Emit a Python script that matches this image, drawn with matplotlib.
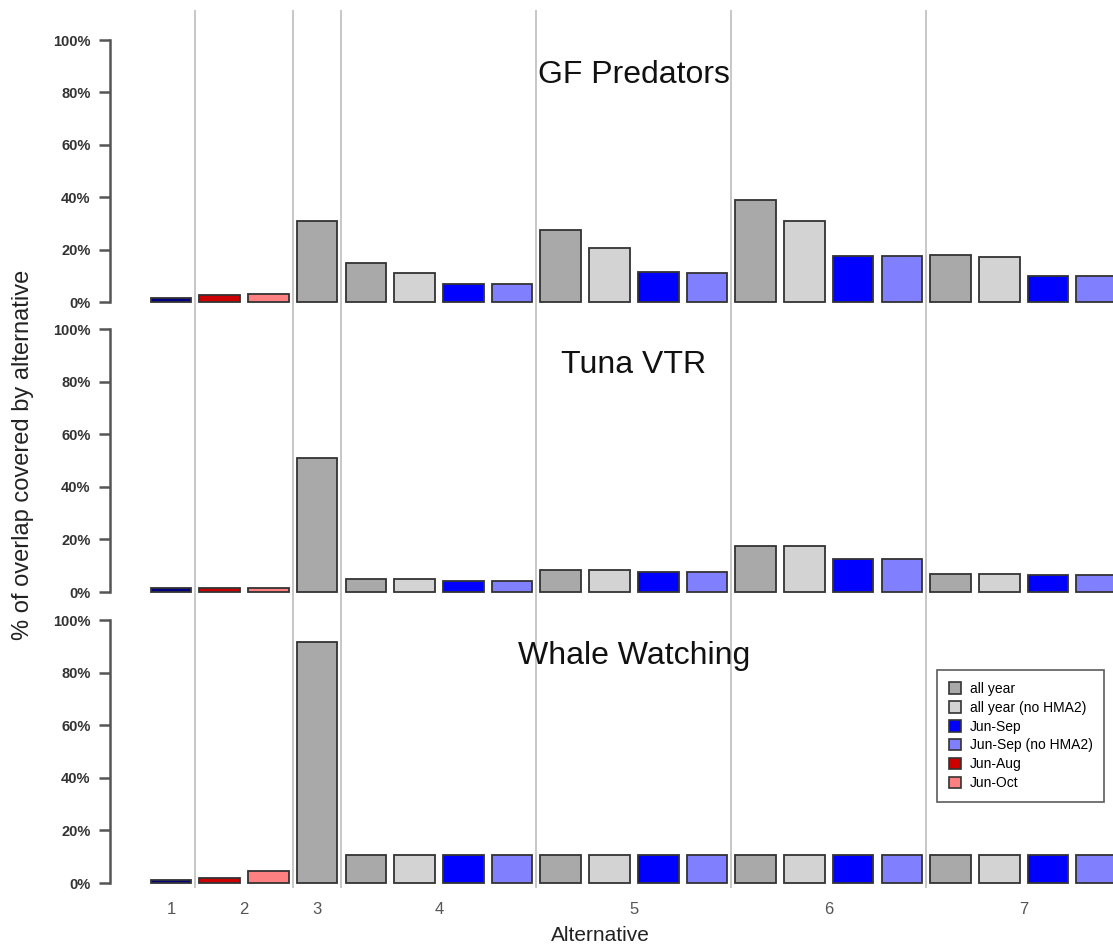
import matplotlib.pyplot as plt
from matplotlib.patches import Patch

plt.rcParams['font.family'] = ['Liberation Sans', 'DejaVu Sans']

# bar order: alt1 | alt2 (Jun-Aug, Jun-Oct) | alt3 | alt4..alt7 x 4 options
alternatives = ['1', '2', '3', '4', '5', '6', '7']
group_sizes = [1, 2, 1, 4, 4, 4, 4]
panels = ['GF Predators', 'Tuna VTR', 'Whale Watching']

gf_predators = [1.5, 2.5, 3, 31,
                15, 11, 7, 7,
                27.5, 20.5, 11.5, 11,
                39, 31, 17.5, 17.5,
                18, 17, 10, 10]
tuna_vtr = [1.5, 1.5, 1.5, 51,
            5, 5, 4, 4,
            8.5, 8.5, 7.5, 7.5,
            17.5, 17.5, 12.5, 12.5,
            7, 7, 6.5, 6.5]
whale_watching = [1, 2, 4.5, 91.5,
                  10.5, 10.5, 10.5, 10.5,
                  10.5, 10.5, 10.5, 10.5,
                  10.5, 10.5, 10.5, 10.5,
                  10.5, 10.5, 10.5, 10.5]

legend_labels = ['all year', 'all year (no HMA2)', 'Jun-Sep',
                 'Jun-Sep (no HMA2)', 'Jun-Aug', 'Jun-Oct']
legend_colors = ['#a9a9a9', '#d3d3d3', '#0000ff', '#8080ff', '#cc0000', '#ff8080']

four = ['#a9a9a9', '#d3d3d3', '#0000ff', '#8080ff']
bar_colors = ['#000080', '#cc0000', '#ff8080', '#a9a9a9'] + four * 4

# R barplot positions (width 1, space 0.2)
n = len(bar_colors)
xpos = [0.7 + 1.2 * i for i in range(n)]
xlim = (-0.8, 23.9)

# group centres and separators
centers, seps = [], []
k = 0
for g in group_sizes:
    centers.append(sum(xpos[k:k + g]) / g)
    if k > 0:
        seps.append(xpos[k] - 0.6)
    k += g

fig = plt.figure(figsize=(11.13, 9.47), dpi=100)
W, H = 1113, 947

# background axes for the vertical separators
bg = fig.add_axes([110 / W, 1 - 888 / H, 1003 / W, 878 / H])
bg.set_xlim(xlim)
bg.set_ylim(0, 1)
bg.axis('off')
for s in seps:
    bg.axvline(s, color='#bdbdbd', lw=1.2)

panel_px = [(302, 40), (592, 329), (883, 620)]
data = [gf_predators, tuna_vtr, whale_watching]

for (y0, y1), vals, title in zip(panel_px, data, panels):
    ax = fig.add_axes([110 / W, 1 - y0 / H, 1003 / W, (y0 - y1) / H])
    ax.patch.set_alpha(0)
    ax.bar(xpos, vals, width=1.0, color=bar_colors, edgecolor='#333333',
           linewidth=1.3, clip_on=False, zorder=3)
    ax.set_xlim(xlim)
    ax.set_ylim(0, 100)
    for sp in ['top', 'right', 'bottom']:
        ax.spines[sp].set_visible(False)
    ax.spines['left'].set_color('#555555')
    ax.spines['left'].set_linewidth(1.8)
    ax.set_yticks(range(0, 101, 20))
    ax.set_yticklabels([f'{v}%' for v in range(0, 101, 20)],
                       fontsize=10.5, fontweight='bold', color='#333333')
    ax.tick_params(axis='y', length=8, width=1.8, color='#555555', pad=6)
    ax.set_xticks([])
    ax.text(12.1, 86.5, title, fontsize=23, ha='center', va='center', color='#111111')
    last = ax

last.set_xticks(centers)
last.set_xticklabels(alternatives, fontsize=12, color='#555555')
last.tick_params(axis='x', length=0, pad=14)

fig.text(600 / W, 1 - 935 / H, 'Alternative', fontsize=15, ha='center',
         va='center', color='#222222')
fig.text(23 / W, 1 - 455 / H, '% of overlap covered by alternative', fontsize=17,
         rotation=90, ha='center', va='center', color='#222222')

handles = [Patch(facecolor=c, edgecolor='#333333', linewidth=1.2) for c in legend_colors]
leg = fig.legend(handles, legend_labels, loc='upper left',
                 bbox_to_anchor=(937 / W, 1 - 670 / H), fontsize=10,
                 frameon=True, fancybox=False, handlelength=0.9, handleheight=0.9,
                 handletextpad=0.6, labelspacing=0.35, borderpad=0.85,
                 borderaxespad=0)
leg.get_frame().set_edgecolor('#333333')
leg.get_frame().set_linewidth(1.2)

fig.savefig('out.png', dpi=100, facecolor='white')
